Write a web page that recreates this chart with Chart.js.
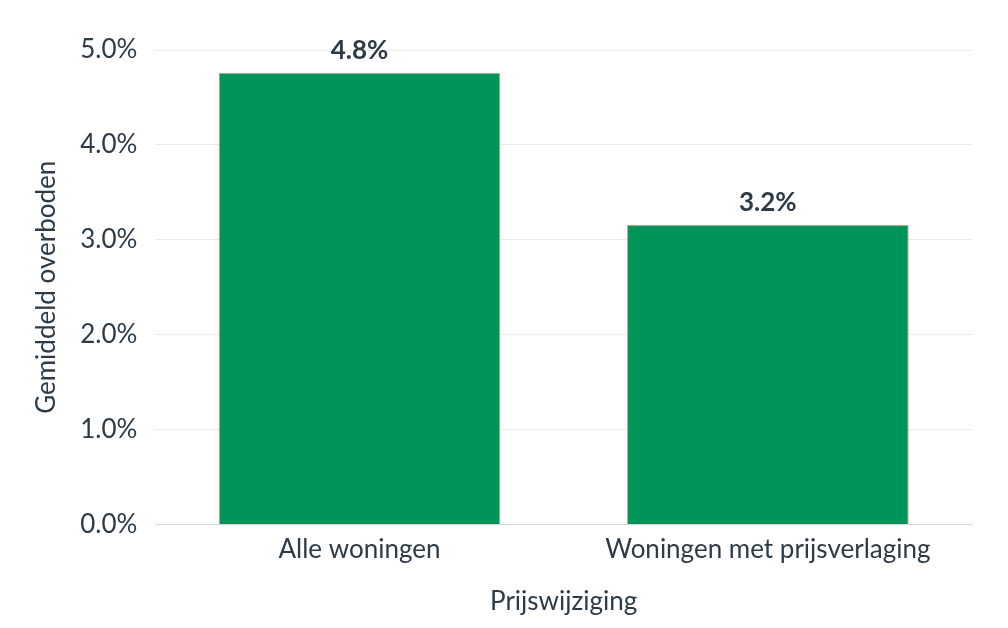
<!DOCTYPE html>
<html>
<head>
<meta charset="utf-8">
<script src="https://cdn.jsdelivr.net/npm/chart.js@4.4.0/dist/chart.umd.min.js"></script>
<style>
html,body{margin:0;padding:0;background:#fff;}
#wrap{width:1008px;height:628px;}
</style>
</head>
<body>
<div id="wrap"><canvas id="c" width="1008" height="628"></canvas></div>
<script>
const categories = ["Alle woningen", "Woningen met prijsverlaging"];
const values = [4.76, 3.16];
const yTicks = [0, 1, 2, 3, 4, 5];

const textColor = "#2e3b47";
const fontFamily = "Lato, 'Open Sans', sans-serif";

const labelPlugin = {
  id: "barLabels",
  afterDatasetsDraw(chart) {
    const ctx = chart.ctx;
    const meta = chart.getDatasetMeta(0);
    ctx.save();
    ctx.font = "bold 26px " + fontFamily;
    ctx.fillStyle = textColor;
    ctx.textAlign = "center";
    ctx.textBaseline = "middle";
    meta.data.forEach((bar, i) => {
      ctx.fillText(values[i].toFixed(1) + "%", bar.x, bar.y - 22);
    });
    ctx.restore();
  }
};

new Chart(document.getElementById("c"), {
  type: "bar",
  data: {
    labels: categories,
    datasets: [{
      data: values,
      backgroundColor: "#009558",
      borderColor: "#d9a29a",
      borderWidth: 1,
      categoryPercentage: 0.69,
      barPercentage: 1.0
    }]
  },
  options: {
    responsive: false,
    animation: false,
    devicePixelRatio: 1,
    layout: { padding: { left: 25, right: 36, top: 50, bottom: 11 } },
    plugins: { legend: { display: false }, tooltip: { enabled: false } },
    scales: {
      x: {
        grid: { display: false, drawTicks: false },
        border: { display: true, color: "#d6d6d6", width: 1 },
        ticks: { color: textColor, font: { family: fontFamily, size: 26 }, padding: 9 },
        title: { display: true, text: "Prijswijziging", color: textColor, font: { family: fontFamily, size: 26 }, padding: { top: 12, bottom: 0 } }
      },
      y: {
        min: 0, max: 5,
        afterBuildTicks(axis) { axis.ticks = yTicks.map(v => ({ value: v })); },
        grid: { color: "#ebebeb", lineWidth: 1, drawTicks: false },
        border: { display: false },
        ticks: { color: textColor, font: { family: fontFamily, size: 26 }, padding: 18, callback: v => v.toFixed(1) + "%" },
        title: { display: true, text: "Gemiddeld overboden", color: textColor, font: { family: fontFamily, size: 26 }, padding: { top: 6, bottom: 0 } }
      }
    }
  },
  plugins: [labelPlugin]
});
</script>
</body>
</html>
